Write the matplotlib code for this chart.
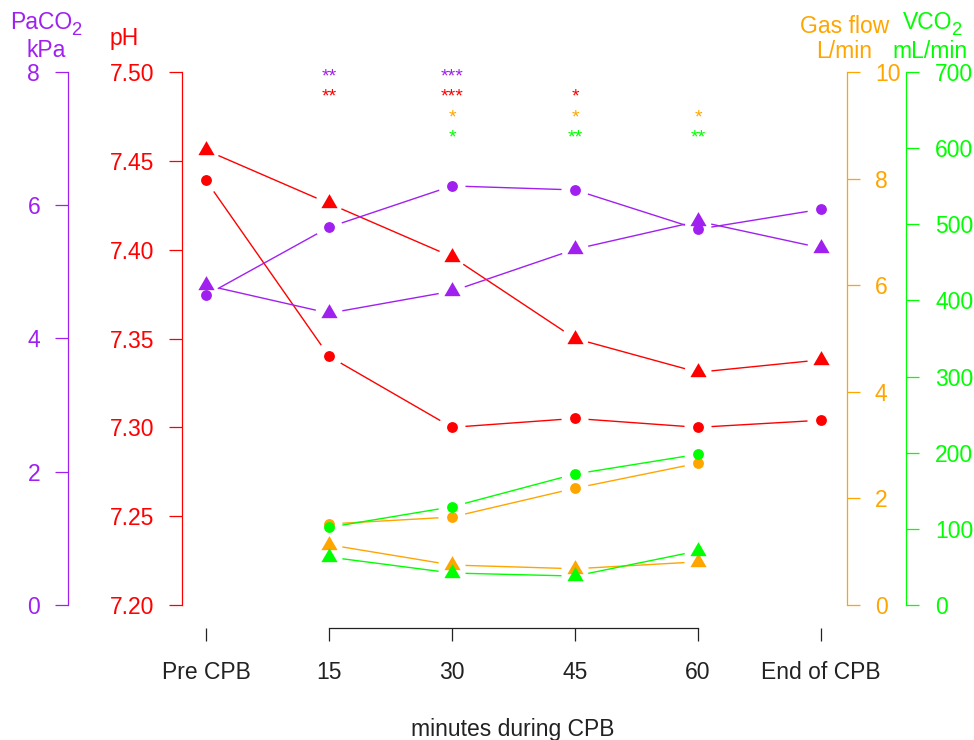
import numpy as np
import matplotlib
matplotlib.use('Agg')
import matplotlib.pyplot as plt
from matplotlib.transforms import blended_transform_factory

plt.rcParams['font.family'] = ['Liberation Sans', 'DejaVu Sans']

# data
times = ['Pre CPB', '15', '30', '45', '60', 'End of CPB']
x_all = [0, 1, 2, 3, 4, 5]
x_cpb = [1, 2, 3, 4]

paco2_circ = [4.65, 5.67, 6.29, 6.23, 5.64, 5.94]
paco2_tri = [4.80, 4.38, 4.71, 5.34, 5.76, 5.36]
ph_tri = [7.456, 7.426, 7.396, 7.350, 7.331, 7.338]
ph_circ = [7.439, 7.340, 7.300, 7.305, 7.300, 7.304]
gas_circ = [1.52, 1.65, 2.19, 2.66]
gas_tri = [1.13, 0.75, 0.68, 0.81]
vco2_circ = [102, 129, 172, 198]
vco2_tri = [63, 42, 38, 71]

# significance marks: rows are PaCO2, pH, gas flow, VCO2
stars = {
    1: ['**', '**', '', ''],
    2: ['***', '***', '*', '*'],
    3: ['', '*', '*', '**'],
    4: ['', '', '*', '**'],
}

purple = '#A020F0'
red = '#FF0000'
orange = '#FFA500'
green = '#00FF00'

W, H = 974, 740
fs = 16.5

fig = plt.figure(figsize=(W / 100, H / 100), dpi=100)
L, R, T, B = 182, 847, 72, 605
ax = fig.add_axes([L / W, 1 - B / H, (R - L) / W, (B - T) / H])
ax_pa = ax.twinx()
ax_gas = ax.twinx()
ax_v = ax.twinx()

xlim = (-24 / 123, 5 + 26 / 123)
ax.set_xlim(*xlim)
ax.set_ylim(7.20, 7.50)
ax_pa.set_ylim(0, 8)
ax_gas.set_ylim(0, 10)
ax_v.set_ylim(0, 700)

for a in (ax, ax_pa, ax_gas, ax_v):
    for s in a.spines.values():
        s.set_visible(False)
    a.patch.set_visible(False)

tl = 9.5
pad = 10.5


def style_y(a, side, color, pos, ticks, labels):
    sp = a.spines[side]
    sp.set_visible(True)
    sp.set_color(color)
    sp.set_linewidth(0.9)
    sp.set_position(('axes', pos))
    a.yaxis.set_ticks_position(side)
    a.set_yticks(ticks)
    a.set_yticklabels(labels)
    a.tick_params(axis='y', direction='out', length=tl, width=0.9, color=color,
                  labelcolor=color, labelsize=fs, pad=pad)


style_y(ax, 'left', red, 0, [7.20, 7.25, 7.30, 7.35, 7.40, 7.45, 7.50],
        ['7.20', '7.25', '7.30', '7.35', '7.40', '7.45', '7.50'])
style_y(ax_pa, 'left', purple, (68 - L) / (R - L), [0, 2, 4, 6, 8],
        ['0', '2', '4', '6', '8'])
style_y(ax_gas, 'right', orange, 1.0, [0, 2, 4, 6, 8, 10],
        ['0', '2', '4', '6', '8', '10'])
style_y(ax_v, 'right', green, (906 - L) / (R - L), [0, 100, 200, 300, 400, 500, 600, 700],
        ['0', '100', '200', '300', '400', '500', '600', '700'])
ax_v.tick_params(axis='y', pad=pad + 1)

# x axis (R style: line only from 15 to 60)
sp = ax.spines['bottom']
sp.set_visible(True)
sp.set_position(('axes', -23 / (B - T)))
sp.set_bounds(1, 4)
sp.set_color('#222222')
sp.set_linewidth(0.9)
ax.set_xticks(x_all)
ax.set_xticklabels(times)
ax.tick_params(axis='x', direction='out', length=tl, width=0.9, color='#222222',
               labelsize=fs, pad=14, labelcolor='#222222')
ax.xaxis.set_ticks_position('bottom')


def gapped(a, xs, ys, color, gap=13.5):
    # lines that stop short of the markers, like R's type = "b"
    pts = a.transData.transform(np.column_stack([xs, ys]))
    inv = a.transData.inverted()
    for p, q in zip(pts[:-1], pts[1:]):
        d = q - p
        n = np.hypot(*d)
        if n <= 2 * gap:
            continue
        u = d / n
        seg = inv.transform(np.array([p + u * gap, q - u * gap]))
        a.plot(seg[:, 0], seg[:, 1], color=color, lw=1.0, solid_capstyle='butt')


tri = [(-1, -0.577), (1, -0.577), (0, 1.155)]
ms_c = 7.8
ms_t = 13.5

series = [
    (ax_pa, x_all, paco2_circ, paco2_tri, purple),
    (ax, x_all, ph_circ, ph_tri, red),
    (ax_gas, x_cpb, gas_circ, gas_tri, orange),
    (ax_v, x_cpb, vco2_circ, vco2_tri, green),
]
for a, xs, yc, yt, col in series:
    gapped(a, xs, yc, col)
    gapped(a, xs, yt, col)
    a.plot(xs, yc, ls='none', marker='o', ms=ms_c, color=col, mec=col, mew=0)
    a.plot(xs, yt, ls='none', marker=tri, ms=ms_t, color=col, mec=col, mew=0)

# stars above the plot
cols = [purple, red, orange, green]
rows_y = [71, 91, 112, 132]
star_fs = 14
trans = blended_transform_factory(ax.transData, fig.transFigure)
for xi, marks in stars.items():
    for k, s in enumerate(marks):
        if s:
            ax.text(xi, 1 - (rows_y[k] + 10) / H, s, transform=trans, ha='center',
                    va='baseline', color=cols[k], fontsize=star_fs, clip_on=False)


def ftext(px, py, s, color, ha='center', size=fs):
    return fig.text(px / W, 1 - py / H, s, color=color, fontsize=size, ha=ha, va='baseline')


renderer = fig.canvas.get_renderer()


def with_sub(px, py, s, sub, color):
    t = ftext(px, py, s, color, ha='left')
    ext = t.get_window_extent(renderer)
    ftext(ext.x1 - 1, py + 6, sub, color, ha='left', size=fs * 0.8)


with_sub(10, 29, 'PaCO', '2', purple)
ftext(46, 57, 'kPa', purple)
ftext(110, 45, 'pH', red, ha='left')
ftext(845, 33, 'Gas flow', orange)
ftext(844, 58, 'L/min', orange)
with_sub(903, 29, 'VCO', '2', green)
ftext(930, 58, 'mL/min', green)
ftext(513, 736, 'minutes during CPB', '#222222')

fig.savefig('out.png', dpi=100)
